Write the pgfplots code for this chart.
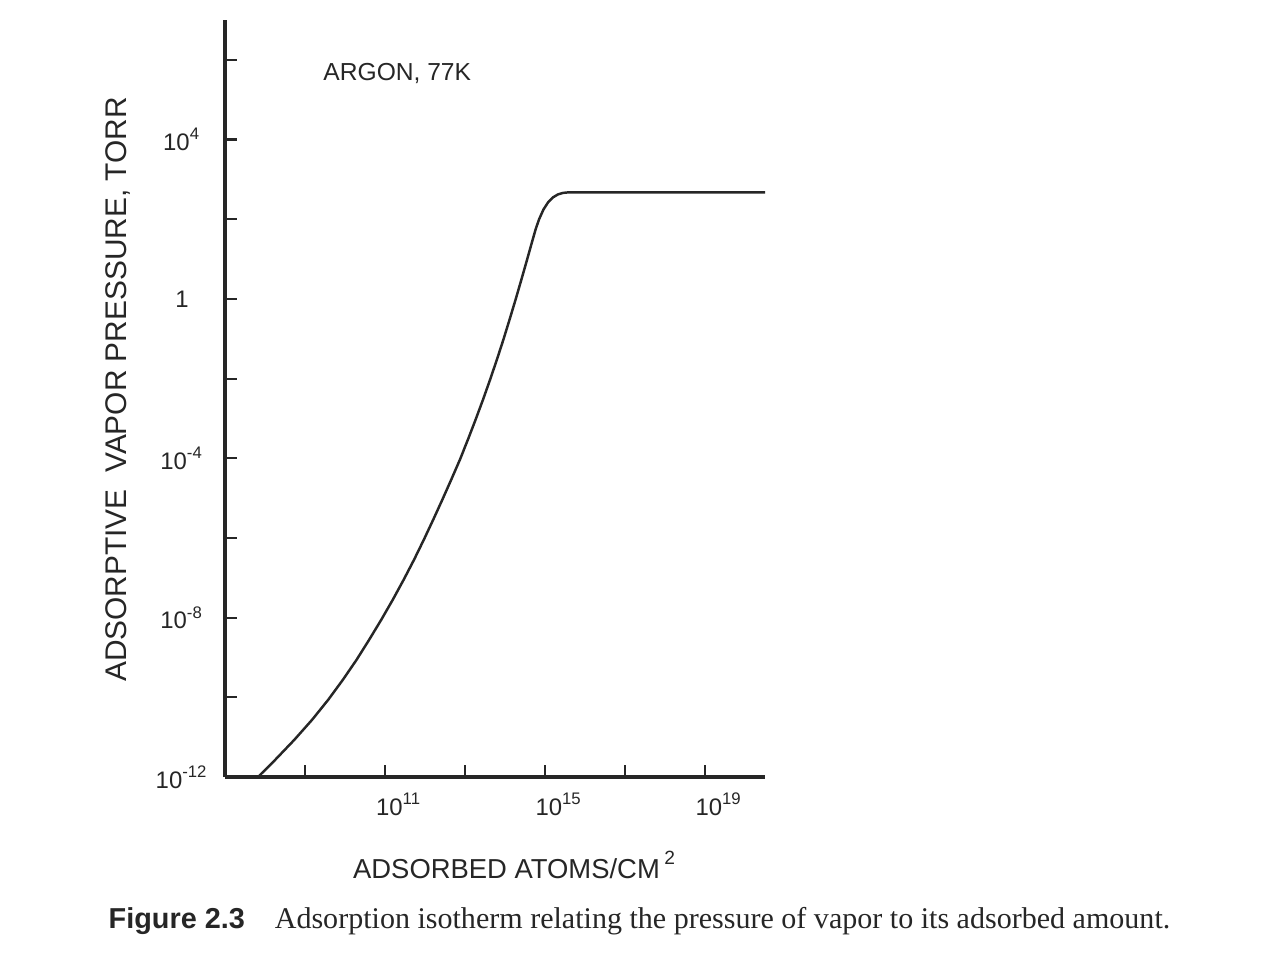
\documentclass[border=0pt]{standalone}
\usepackage{pgfplots}
\pgfplotsset{compat=1.18}
\usepackage{fontspec}
\setmainfont{Liberation Serif}
\setsansfont{Liberation Sans}
\definecolor{ink}{HTML}{262626}
\begin{document}
\begin{tikzpicture}
\path[use as bounding box] (0,0) rectangle (12.61,9.55);
\begin{loglogaxis}[
  at={(2.25cm,1.78cm)}, anchor=south west,
  scale only axis, width=5.40cm, height=7.57cm,
  xmin=1e7, xmax=3.16e20, ymin=1e-12, ymax=1e7,
  axis x line=bottom, axis y line=left,
  axis line style={-, line width=0.9pt, ink},
  tick align=inside, major tick length=0.12cm,
  tick style={line width=0.6pt, ink},
  minor tick num=0,
  xtick={1e9,1e11,1e13,1e15,1e17,1e19},
  xticklabels={,10\textsuperscript{11},,10\textsuperscript{15},,10\textsuperscript{19}},
  ytick={1e-12,1e-10,1e-8,1e-6,1e-4,1e-2,1,1e2,1e4,1e6},
  yticklabels={10\textsuperscript{-12},,10\textsuperscript{-8},,10\textsuperscript{-4},,1,,10\textsuperscript{4},},
  ticklabel style={font=\sffamily\fontsize{6.8pt}{7pt}\selectfont, text=ink},
  xticklabel style={yshift=-1pt, xshift=0.14cm},
  yticklabel style={anchor=center, xshift=-0.43cm},
  xlabel={ADSORBED ATOMS/CM\,\raisebox{0.25ex}{\textsuperscript{2}}},
  ylabel={ADSORPTIVE\ \ VAPOR PRESSURE, TORR},
  xlabel style={font=\sffamily\fontsize{7.8pt}{8pt}\selectfont, text=ink,
    at={(axis description cs:0.537,-0.116)}, anchor=center},
  ylabel style={font=\sffamily\fontsize{8.5pt}{9pt}\selectfont, text=ink,
    at={(axis description cs:-0.198,0.512)}, anchor=center, rotate=0},
  clip=false,
]
\addplot[ink, line width=0.7pt, line join=round] coordinates {
 (6.68e7,1e-12) (1.78e8,2.67e-12) (5.37e8,8.51e-12) (1.49e9,2.70e-11)
 (3.78e9,8.61e-11) (8.81e9,2.74e-10) (1.94e10,8.71e-10) (4.00e10,2.77e-9)
 (8.04e10,8.81e-9) (1.56e11,2.80e-8) (2.92e11,8.91e-8) (5.31e11,2.83e-7)
 (9.33e11,9.02e-7) (1.60e12,2.86e-6) (2.71e12,9.12e-6) (4.52e12,2.90e-5)
 (7.46e12,9.23e-5) (1.18e13,2.93e-4) (1.84e13,9.33e-4) (2.82e13,2.97e-3)
 (4.24e13,9.44e-3) (6.27e13,3.00e-2) (9.12e13,9.55e-2) (1.30e14,0.303)
 (1.84e14,0.966) (2.57e14,3.07) (3.57e14,9.77) (4.93e14,31.05)
 (5.82e14,55.5) (7.08e14,98.9) (9.17e14,176.2) (1.19e15,264.2)
 (1.58e15,353.2) (2.11e15,419.8) (2.82e15,458.1) (3.76e15,471)
 (1e17,471) (3.16e20,471)
};
\node[font=\sffamily\fontsize{7.0pt}{8pt}\selectfont, text=ink, anchor=center]
  at (rel axis cs:0.319,0.930) {ARGON, 77K};
\end{loglogaxis}
\node[anchor=base west, text=ink, inner sep=0pt] at (1.08,0.27)
  {{\sffamily\bfseries\fontsize{8.2pt}{9pt}\selectfont Figure 2.3}\hspace{0.3cm}{\fontsize{8.55pt}{9pt}\selectfont Adsorption isotherm relating the pressure of vapor to its adsorbed amount.}};
\end{tikzpicture}
\end{document}
